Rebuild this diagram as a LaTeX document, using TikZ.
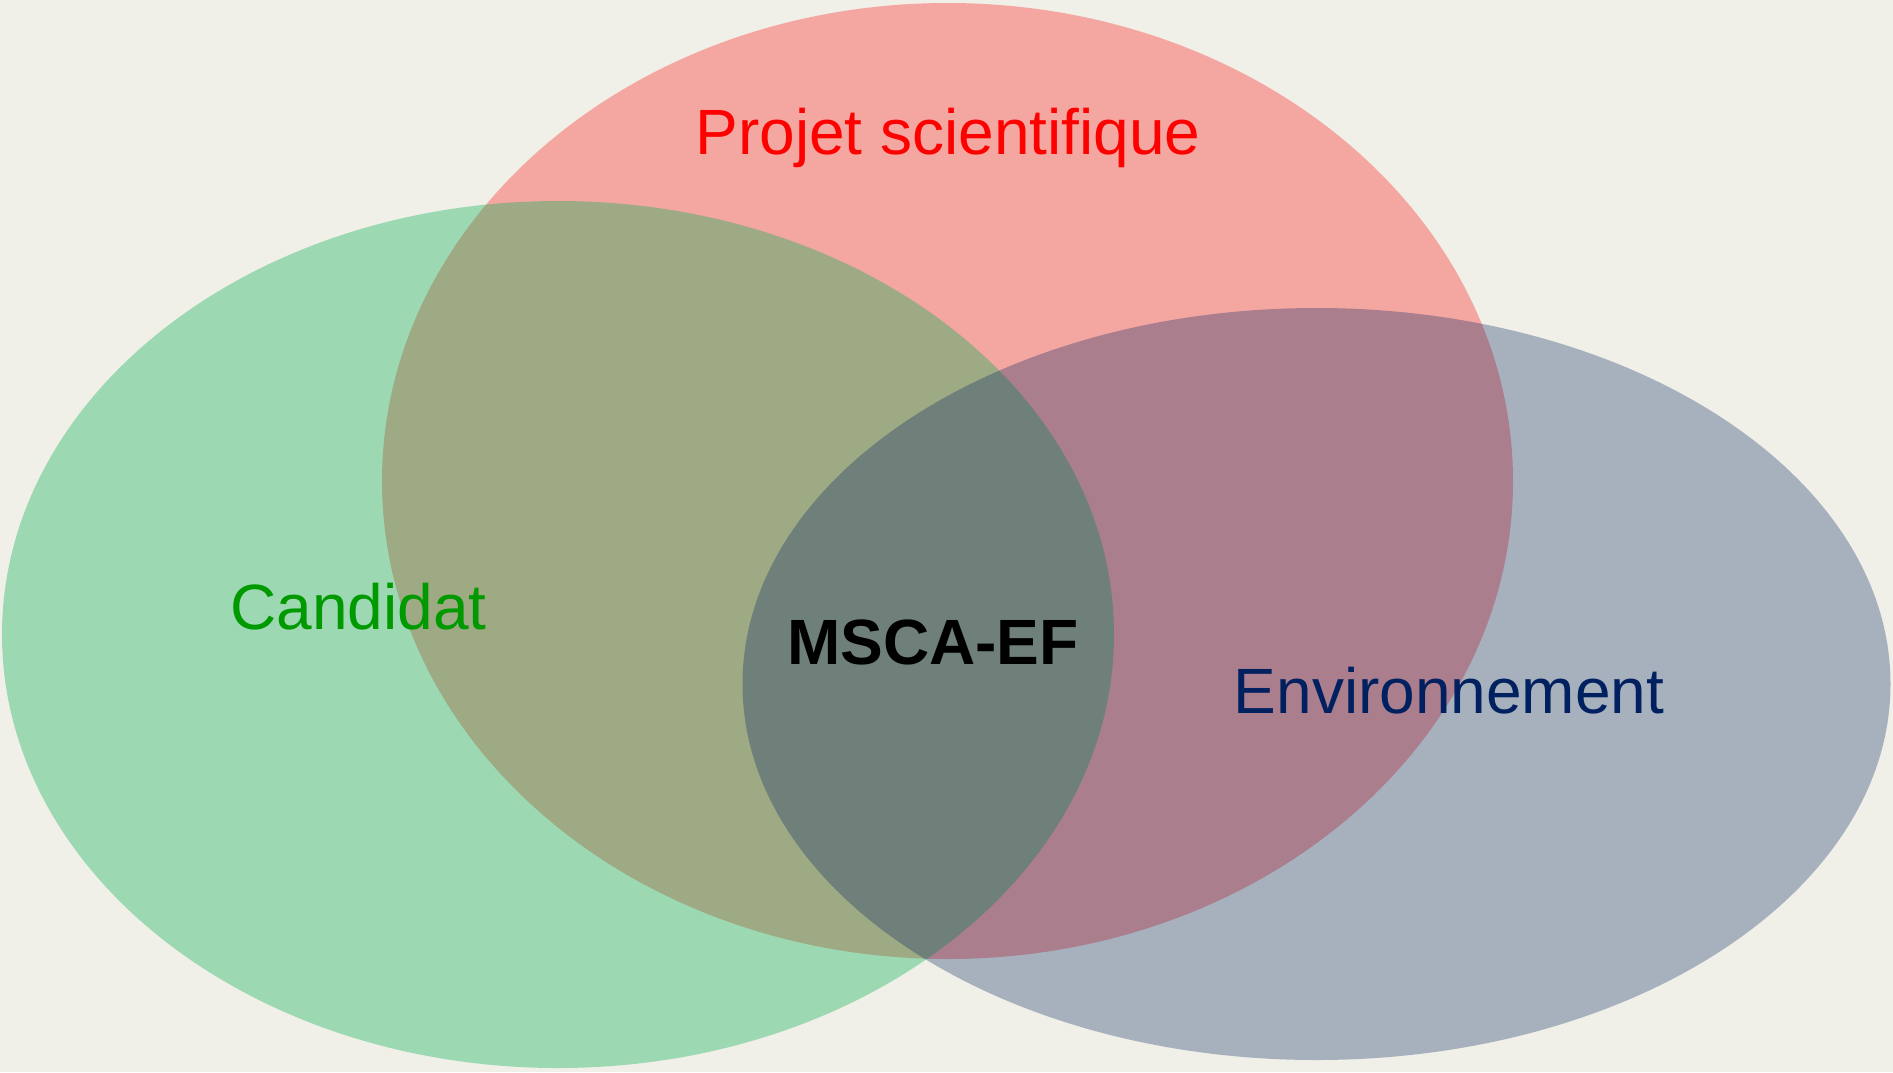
\documentclass[tikz,border=0pt]{standalone}
\usepackage{fontspec}
\setmainfont{Liberation Sans}
\definecolor{bgc}{RGB}{240,240,232}
\definecolor{redc}{RGB}{255,0,0}
\definecolor{greenc}{RGB}{0,176,80}
\definecolor{navyc}{RGB}{0,32,96}
\definecolor{greentext}{RGB}{0,153,0}
\tikzset{
  lbl/.style={anchor=base, inner sep=0pt, font=\fontsize{64}{76}\selectfont},
}
\begin{document}
\begin{tikzpicture}[x=1pt,y=-1pt]
\fill[bgc] (0,0) rectangle (1893,1072);
\useasboundingbox (0,0) rectangle (1893,1072);
\fill[redc, opacity=0.30] (947.5,481) ellipse [x radius=565.5, y radius=478];
\fill[greenc, opacity=0.35] (558,634.5) ellipse [x radius=556, y radius=433.5];
\fill[navyc, opacity=0.30] (1316.5,684) ellipse [x radius=574, y radius=376];
\node[lbl, text=redc] (proj) at (948,154.5) {Projet scientifique};
\node[lbl, text=greentext] (cand) at (358.5,629) {Candidat};
\node[lbl, text=black, font=\fontsize{64}{76}\selectfont\bfseries] (msca) at (933,664) {MSCA-EF};
\node[lbl, text=navyc] (env) at (1449,713.5) {Environnement};
\end{tikzpicture}
\end{document}
